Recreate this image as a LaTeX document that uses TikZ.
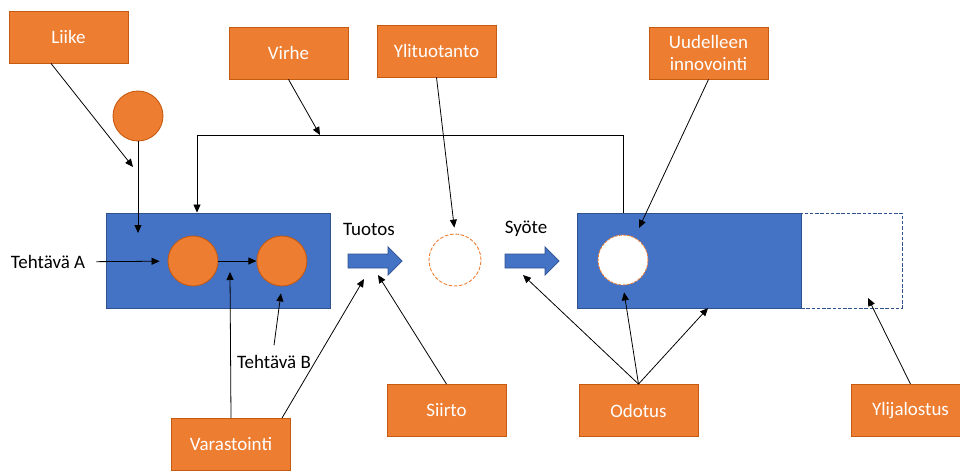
\documentclass[tikz,border=0pt]{standalone}
\usepackage{fontspec}
\setmainfont{Carlito}
\usetikzlibrary{arrows.meta, positioning}

\definecolor{waste}{HTML}{ED7D31}
\definecolor{wasteline}{HTML}{C55A11}
\definecolor{proc}{HTML}{4472C4}
\definecolor{procline}{HTML}{2F528F}

\begin{document}
\begin{tikzpicture}[
			x=0.02cm, y=-0.02cm,
			font=\fontsize{10.8}{12.8}\selectfont,
			waste/.style={rectangle, draw=wasteline, fill=waste, line width=0.5pt, text=white, minimum width=2.38cm, minimum height=1.04cm, align=center, inner sep=1pt},
			ball/.style={circle, draw=wasteline, fill=waste, line width=0.5pt, minimum size=1cm, inner sep=0pt},
			process/.style={rectangle, draw=procline, fill=proc, line width=0.5pt, minimum width=4.48cm, minimum height=1.9cm, inner sep=0pt},
			flow/.style={draw=procline, fill=proc, line width=0.4pt},
			arrow/.style={-{Triangle[length=1.6mm, width=1.4mm]}, line width=0.45pt},
			plain/.style={inner sep=1pt}
			]
			\useasboundingbox (0,0) rectangle (960,473);
			
			% hukkalaatikot
			\node[waste] (liike) at (68.5,37) {Liike};
			\node[waste] (virhe) at (288.5,53) {Virhe};
			\node[waste] (ylituotanto) at (436.5,51) {Ylituotanto};
			\node[waste] (uudelleen) at (708.5,53) {Uudelleen\\innovointi};
			\node[waste] (varastointi) at (231,444.5) {Varastointi};
			\node[waste] (siirto) at (446.5,410.5) {Siirto};
			\node[waste] (odotus) at (638.5,410.5) {Odotus};
			\node[waste] (ylijalostus) at (910.5,410.5) {Ylijalostus};
			
			% prosessit
			\node[process, fill=white, draw=procline, dash pattern=on 2pt off 1pt, minimum width=2.02cm] (jatko) at (851.5,260.5) {};
			\node[process] (prosessiA) at (218,260.5) {};
			\node[process] (prosessiB) at (689,260.5) {};
			
			\node[ball] (liikepallo) at (138,116) {};
			\node[ball] (tehtA) at (193,261) {};
			\node[ball, right=0.76cm of tehtA] (tehtB) {};
			\node[ball, fill=none, draw=waste, dash pattern=on 2pt off 1pt, minimum size=1.04cm] (valivarasto) at (455,260) {};
			\node[ball, fill=white, draw=waste, dash pattern=on 1.5pt off 0.8pt] (odotuspallo) at (623,260) {};
			
			\node[plain] (tehtavaA) at (48,262) {Tehtävä A};
			\node[plain] (tehtavaB) at (274,362) {Tehtävä B};
			\node[plain] (tuotos) at (369,229) {Tuotos};
			\node[plain] (syote) at (526,229) {Syöte};
			
			% tuotos- ja syötenuolet
			\foreach \x in {348, 505}
				\filldraw[flow] (\x,254) -- ++(40,0) -- ++(0,-7) -- ++(14,14) -- ++(-14,14) -- ++(0,-7) -- ++(-40,0) -- cycle;
			
			\coordinate (liikekohta) at (133,167);
			\coordinate (liikesisaan) at (138,233);
			\coordinate (virhekulma) at (197,135);
			\coordinate (virhekohta) at (320,135);
			\coordinate (varastokohta) at (230,272);
			\coordinate (tuotoskohta) at (364,279);
			\coordinate (siirtokohta) at (378,275);
			\coordinate (uudkohta) at (639,228);
			\coordinate (syotekohta) at (523,275);
			\coordinate (odotuskohta) at (708,308);
			\coordinate (jatkokohta) at (868,298);
			
			\draw[arrow] ([xshift=-0.35cm]liike.south) -- (liikekohta);
			\draw[arrow] (liikepallo.south) -- (liikesisaan);
			\draw[arrow] (odotuspallo |- prosessiB.north) |- (virhekulma) -- (virhekulma |- prosessiA.north);
			\draw[arrow] (virhe.south) -- (virhekohta);
			\draw[arrow, shorten <=0.18cm, shorten >=0.16cm] (tehtavaA) -- (tehtA);
			\draw[arrow] (tehtA) -- (tehtB);
			\draw[arrow] (varastointi.north) -- (varastokohta);
			\draw[arrow] ([xshift=1.02cm]varastointi.north) -- (tuotoskohta);
			\draw[arrow, shorten >=0.14cm] ([yshift=0.16cm]tehtavaB.north) -- (tehtB.south);
			\draw[arrow, shorten >=0.12cm] (ylituotanto.south) -- (valivarasto.north);
			\draw[arrow] (siirto.north) -- (siirtokohta);
			\draw[arrow] (uudelleen.south) -- (uudkohta);
			\draw[arrow] (odotus.north) -- (syotekohta);
			\draw[arrow, shorten >=0.14cm] (odotus.north) -- (odotuspallo.south);
			\draw[arrow] (odotus.north) -- (odotuskohta);
			\draw[arrow] (ylijalostus.north) -- (jatkokohta);
		\end{tikzpicture}
\end{document}
